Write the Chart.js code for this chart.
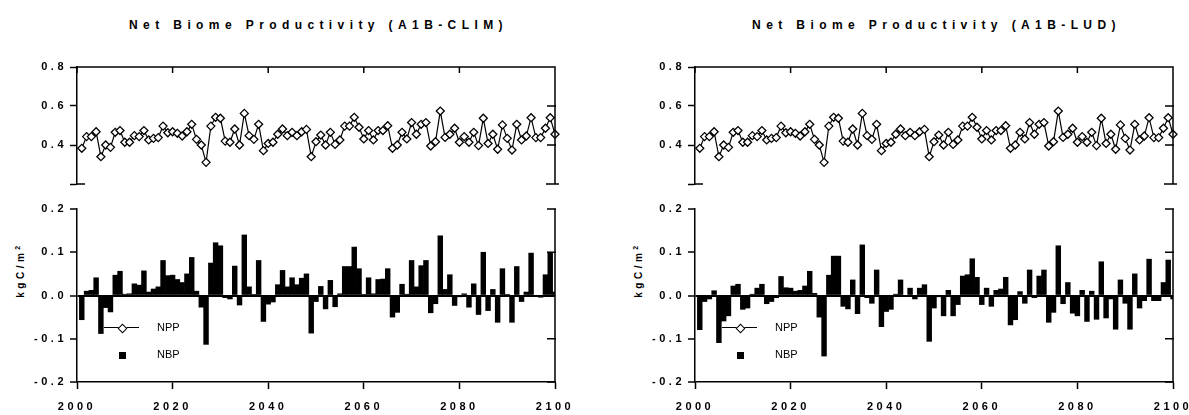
<!DOCTYPE html>
<html>
<head>
<meta charset="utf-8">
<script src="https://cdn.jsdelivr.net/npm/chart.js@4.4.0/dist/chart.umd.min.js"></script>
<style>
  body { margin: 0; background: #fff; width: 1189px; height: 415px; overflow: hidden; position: relative;
         font-family: "Liberation Sans", Arial, sans-serif; color: #000; }
  .panel { position: absolute; top: 0; width: 600px; height: 415px; }
  .panel canvas { position: absolute; left: 0; }
  .title { position: absolute; top: 18px; left: 77px; width: 478px; text-align: center; font-weight: bold;
           font-size: 12px; line-height: 14px; letter-spacing: 5.4px; padding-left: 5px; box-sizing: border-box; white-space: nowrap; }
  .ytitle { position: absolute; left: 20px; top: 270px; transform: translate(-50%, -50%) rotate(-90deg);
            font-weight: bold; font-size: 10px; letter-spacing: 3.5px; white-space: nowrap; }
  .ytitle sup { font-size: 7px; }
  .leg { position: absolute; left: 0; height: 0; width: 200px; }
  .ln { position: absolute; left: 104px; width: 35px; top: -1px; border-top: 1.5px solid #000; }
  .dm { position: absolute; left: 119px; top: -3px; width: 5px; height: 5px; background: #fff; border: 1.2px solid #000; transform: rotate(45deg); }
  .sq { position: absolute; left: 119px; top: -3px; width: 7px; height: 7px; background: #000; }
  .lt { position: absolute; left: 157px; top: -7px; font-size: 11px; line-height: 13px; }
</style>
</head>
<body>
<script>
// years 2001-2100
const years = Array.from({ length: 100 }, (_, i) => 2001 + i);
const xTicks = [2000, 2020, 2040, 2060, 2080, 2100];
const titles = ['Net Biome Productivity (A1B-CLIM)', 'Net Biome Productivity (A1B-LUD)'];

// NPP, same in both panels
const nppValues = [
  0.383, 0.443, 0.443, 0.468, 0.340, 0.400, 0.388, 0.465, 0.474, 0.414,
  0.414, 0.448, 0.443, 0.474, 0.426, 0.434, 0.438, 0.497, 0.463, 0.468,
  0.460, 0.446, 0.468, 0.506, 0.429, 0.400, 0.311, 0.497, 0.542, 0.537,
  0.420, 0.414, 0.482, 0.400, 0.562, 0.448, 0.429, 0.506, 0.371, 0.408,
  0.414, 0.455, 0.482, 0.448, 0.465, 0.448, 0.468, 0.480, 0.340, 0.417,
  0.451, 0.400, 0.465, 0.403, 0.426, 0.497, 0.497, 0.542, 0.491, 0.431,
  0.474, 0.426, 0.474, 0.474, 0.499, 0.383, 0.400, 0.465, 0.431, 0.515,
  0.455, 0.506, 0.515, 0.395, 0.417, 0.574, 0.439, 0.455, 0.486, 0.414,
  0.443, 0.414, 0.465, 0.397, 0.537, 0.408, 0.455, 0.378, 0.503, 0.434,
  0.374, 0.506, 0.426, 0.446, 0.540, 0.438, 0.438, 0.486, 0.540, 0.455
];

const nbpClim = [
  -0.056, 0.010, 0.012, 0.041, -0.088, -0.028, -0.038, 0.047, 0.056, 0.003,
  0.004, 0.027, 0.024, 0.057, 0.008, 0.015, 0.020, 0.081, 0.046, 0.047,
  0.037, 0.030, 0.050, 0.088, 0.010, -0.027, -0.113, 0.075, 0.122, 0.115,
  -0.005, -0.008, 0.068, -0.022, 0.140, 0.020, 0.002, 0.081, -0.060, -0.020,
  -0.015, 0.025, 0.058, 0.020, 0.041, 0.025, 0.040, 0.050, -0.087, -0.014,
  0.021, -0.031, 0.035, -0.026, 0.004, 0.067, 0.067, 0.112, 0.062, 0.002,
  0.041, 0.004, 0.037, 0.038, 0.062, -0.050, -0.039, 0.026, 0.003, 0.081,
  0.020, 0.069, 0.081, -0.040, -0.019, 0.138, 0.014, 0.048, -0.023, -0.003,
  0.004, -0.027, 0.027, -0.044, 0.100, -0.035, 0.014, -0.062, 0.062, 0.002,
  -0.062, 0.067, -0.014, 0.008, 0.098, 0.000, -0.004, 0.048, 0.100, 0.008
];

const nbpLud = [
  -0.079, -0.014, -0.008, 0.011, -0.109, -0.059, -0.047, 0.022, 0.026, -0.032,
  -0.029, 0.003, 0.017, 0.026, -0.019, -0.014, -0.005, 0.044, 0.018, 0.017,
  0.010, 0.012, 0.022, 0.056, 0.005, -0.050, -0.140, 0.047, 0.091, 0.091,
  -0.025, -0.031, 0.036, -0.042, 0.117, -0.005, -0.018, 0.059, -0.072, -0.037,
  -0.032, 0.003, 0.036, -0.002, 0.017, -0.008, 0.017, 0.025, -0.106, -0.029,
  -0.003, -0.047, 0.012, -0.047, -0.021, 0.045, 0.048, 0.085, 0.042, -0.021,
  0.017, -0.025, 0.012, 0.015, 0.042, -0.068, -0.056, 0.009, -0.018, 0.059,
  -0.005, 0.045, 0.059, -0.062, -0.039, 0.115, -0.019, 0.030, -0.041, -0.047,
  0.012, -0.060, 0.010, -0.055, 0.078, -0.052, -0.008, -0.078, 0.036, -0.018,
  -0.078, 0.050, -0.029, -0.012, 0.084, -0.012, -0.012, 0.030, 0.082, -0.008
];

const tickFont = { family: '"Liberation Sans", Arial, sans-serif', size: 11, weight: 'bold' };

// right axis, top frame line and axis-break ticks
const framePlugin = {
  id: 'frame',
  beforeLayout(chart) { chart.ctx.letterSpacing = '3.5px'; },
  beforeDraw(chart) { chart.ctx.letterSpacing = '3.5px'; },
  afterDraw(chart, args, opts) {
    const { ctx, chartArea: a } = chart;
    const sx = chart.scales.x, sy = chart.scales.y;
    ctx.save();
    ctx.strokeStyle = '#000';
    ctx.lineWidth = 1.5;
    ctx.beginPath();
    ctx.moveTo(a.right, a.top - 0.75);
    ctx.lineTo(a.right, a.bottom + 0.75);
    opts.rightTicks.forEach(v => {
      const py = sy.getPixelForValue(v);
      ctx.moveTo(a.right + 1, py);
      ctx.lineTo(a.right - 8, py);
    });
    if (opts.topLine) {
      ctx.moveTo(a.left, a.top);
      ctx.lineTo(a.right, a.top);
      xTicks.forEach(v => {
        const px = sx.getPixelForValue(v);
        ctx.moveTo(px, a.top);
        ctx.lineTo(px, a.top + 6);
      });
    }
    if (opts.breakValue != null) {
      const py = sy.getPixelForValue(opts.breakValue);
      ctx.moveTo(a.left, py);
      ctx.lineTo(a.left + 8, py);
      ctx.moveTo(a.right + 4, py);
      ctx.lineTo(a.right - 9, py);
    }
    ctx.stroke();
    ctx.restore();
  }
};

function makePanel(left, title, nbp) {
  const panel = document.createElement('div');
  panel.className = 'panel';
  panel.style.left = left + 'px';
  panel.innerHTML =
    '<div class="title">' + title + '</div>' +
    '<div class="ytitle">kgC/m<sup>2</sup></div>' +
    '<canvas class="c-top" width="600" height="145" style="top:50px"></canvas>' +
    '<canvas class="c-bot" width="600" height="220" style="top:195px"></canvas>' +
    '<div class="leg" style="top:328px"><span class="ln"></span><span class="dm"></span><span class="lt">NPP</span></div>' +
    '<div class="leg" style="top:355px"><span class="sq"></span><span class="lt">NBP</span></div>';
  document.body.appendChild(panel);

  const nppPoints = years.map((yr, i) => ({ x: yr, y: nppValues[i] }));
  const nbpPoints = years.map((yr, i) => ({ x: yr, y: nbp[i] }));

  new Chart(panel.querySelector('.c-top'), {
    type: 'line',
    data: {
      datasets: [{
        label: 'NPP',
        data: nppPoints,
        borderColor: '#000',
        borderWidth: 1.2,
        pointStyle: 'rectRot',
        pointRadius: 4,
        pointBackgroundColor: '#fff',
        pointBorderColor: '#000',
        pointBorderWidth: 1.3,
        tension: 0,
        clip: false
      }]
    },
    options: {
      responsive: false,
      animation: false,
      events: [],
      layout: { padding: { top: 17, right: 45, bottom: 11, left: 0 } },
      plugins: {
        legend: { display: false },
        tooltip: { enabled: false },
        frame: { rightTicks: [0.6, 0.4], topLine: true, breakValue: 0.2 }
      },
      scales: {
        x: { type: 'linear', min: 2000, max: 2100, display: false },
        y: {
          min: 0.2, max: 0.8,
          afterFit: s => { s.width = 77; },
          border: { color: '#000', width: 1.5 },
          grid: { drawOnChartArea: false, tickLength: 7, tickColor: '#000', tickWidth: 1.5 },
          ticks: {
            stepSize: 0.2, color: '#000', font: tickFont, padding: 3,
            callback: v => v < 0.3 ? '' : v.toFixed(1)
          }
        }
      }
    },
    plugins: [framePlugin]
  });

  new Chart(panel.querySelector('.c-bot'), {
    type: 'bar',
    data: {
      datasets: [{
        label: 'NBP',
        data: nbpPoints,
        backgroundColor: '#000',
        borderWidth: 0,
        barPercentage: 1,
        categoryPercentage: 1
      }]
    },
    options: {
      responsive: false,
      animation: false,
      events: [],
      layout: { padding: { top: 14, right: 45, bottom: 0, left: 0 } },
      plugins: {
        legend: { display: false },
        tooltip: { enabled: false },
        frame: { rightTicks: [0.2, 0.1, -0.1, -0.2], topLine: false, breakValue: null }
      },
      scales: {
        x: {
          type: 'linear', min: 2000, max: 2100, offset: false,
          afterFit: s => { s.height = 33; },
          border: { color: '#000', width: 1.5 },
          grid: { offset: false, drawOnChartArea: false, tickLength: 7, tickColor: '#000', tickWidth: 1.5 },
          ticks: {
            stepSize: 20, color: '#000', font: tickFont, padding: 11, maxRotation: 0, autoSkip: false,
            callback: v => String(v)
          }
        },
        y: {
          min: -0.2, max: 0.2,
          afterFit: s => { s.width = 77; },
          border: { color: '#000', width: 1.5 },
          grid: {
            drawOnChartArea: true,
            color: c => (c.tick && Math.abs(c.tick.value) < 1e-9) ? '#000' : 'rgba(0,0,0,0)',
            lineWidth: 2,
            tickLength: 7, tickColor: '#000', tickWidth: 1.5
          },
          ticks: {
            stepSize: 0.1, color: '#000', font: tickFont, padding: 3,
            callback: v => (Math.abs(v) < 1e-9 ? 0 : v).toFixed(1)
          }
        }
      }
    },
    plugins: [framePlugin]
  });
}

makePanel(0, titles[0], nbpClim);
makePanel(618, titles[1], nbpLud);
</script>
</body>
</html>
